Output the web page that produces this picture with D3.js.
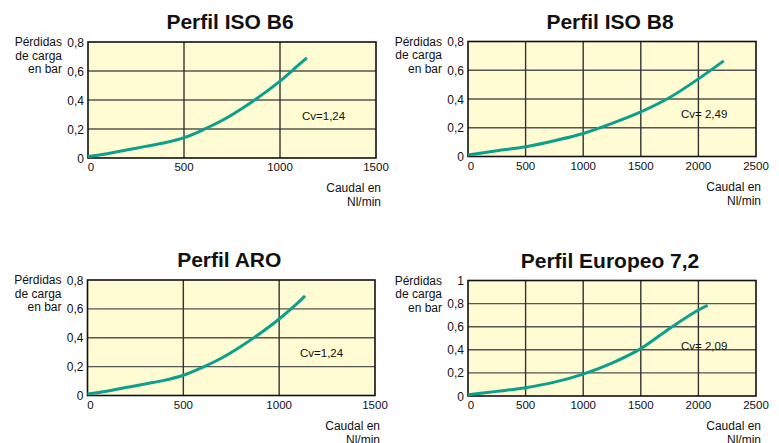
<!DOCTYPE html>
<html>
<head>
<meta charset="utf-8">
<script src="https://cdn.jsdelivr.net/npm/d3@7"></script>
<style>
body { margin: 0; background: #fff; }
text { font-family: "Liberation Sans", Arial, sans-serif; fill: #111; }
</style>
</head>
<body>
<div id="chart"></div>
<script>
// data
titles = ["Perfil ISO B6", "Perfil ISO B8", "Perfil ARO", "Perfil Europeo 7,2"];
cvLabels = ["Cv=1,24", "Cv= 2,49", "Cv=1,24", "Cv= 2,09"];
xMax = [1500, 2500, 1500, 2500];
yMax = [0.8, 0.8, 0.8, 1];
xTicks_1500 = [0, 500, 1000, 1500];
xTicks_2500 = [0, 500, 1000, 1500, 2000, 2500];
yTicks_08 = [0, 0.2, 0.4, 0.6, 0.8];
yTicks_1 = [0, 0.2, 0.4, 0.6, 0.8, 1];

flowB6 = [0, 100, 200, 300, 400, 500, 600, 700, 800, 900, 1000, 1100, 1140];
lossB6 = [0.01, 0.03, 0.055, 0.08, 0.105, 0.14, 0.195, 0.26, 0.34, 0.43, 0.53, 0.645, 0.69];
flowB8 = [0, 250, 500, 750, 1000, 1250, 1500, 1750, 2000, 2220];
lossB8 = [0.01, 0.04, 0.068, 0.11, 0.16, 0.23, 0.31, 0.41, 0.54, 0.665];
flowARO = [0, 100, 200, 300, 400, 500, 600, 700, 800, 900, 1000, 1100, 1135];
lossARO = [0.01, 0.03, 0.055, 0.08, 0.105, 0.14, 0.195, 0.26, 0.34, 0.43, 0.53, 0.645, 0.69];
flowEU = [0, 250, 500, 750, 1000, 1250, 1500, 1750, 2000, 2080];
lossEU = [0.01, 0.04, 0.072, 0.12, 0.19, 0.285, 0.41, 0.585, 0.745, 0.785];

var series = [[flowB6, lossB6], [flowB8, lossB8], [flowARO, lossARO], [flowEU, lossEU]];
var xTicksAll = [xTicks_1500, xTicks_2500, xTicks_1500, xTicks_2500];
var yTicksAll = [yTicks_08, yTicks_08, yTicks_08, yTicks_1];

// plot boxes [left, top, right, bottom]
var boxes = [[88, 42, 376, 158], [468, 41.5, 756, 156.5], [87.5, 280, 375, 395.5], [468, 280.5, 756, 396]];
var cvPos = [[302, 120], [681, 118], [300, 357], [681, 350]];

var svg = d3.select("#chart").append("svg")
			.attr("width", 779)
			.attr("height", 443);

var fmt = function(v){ return String(v).replace(".", ","); };

boxes.forEach(function(b, i){
	var g = svg.append("g");
	var x = d3.scaleLinear().domain([0, xMax[i]]).range([b[0], b[2]]);
	var y = d3.scaleLinear().domain([0, yMax[i]]).range([b[3], b[1]]);

	g.append("rect")
	 .attr("x", b[0]).attr("y", b[1])
	 .attr("width", b[2] - b[0]).attr("height", b[3] - b[1])
	 .style("fill", "#fffbd2");

	// grid
	g.selectAll(".hg").data(yTicksAll[i].slice(1, -1)).enter().append("line")
	 .attr("x1", b[0]).attr("x2", b[2])
	 .attr("y1", function(d){ return y(d); }).attr("y2", function(d){ return y(d); })
	 .style("stroke", "#555").style("stroke-width", 1.4);
	g.selectAll(".vg").data(xTicksAll[i].slice(1, -1)).enter().append("line")
	 .attr("y1", b[1]).attr("y2", b[3])
	 .attr("x1", function(d){ return x(d); }).attr("x2", function(d){ return x(d); })
	 .style("stroke", "#333").style("stroke-width", 1.4);

	g.append("rect")
	 .attr("x", b[0]).attr("y", b[1])
	 .attr("width", b[2] - b[0]).attr("height", b[3] - b[1])
	 .style("fill", "none").style("stroke", "#111").style("stroke-width", 1.6);

	// curve
	var pts = series[i][0].map(function(f, k){ return [f, series[i][1][k]]; });
	g.append("path")
	 .datum(pts)
	 .attr("d", d3.line().x(function(d){ return x(d[0]); }).y(function(d){ return y(d[1]); }).curve(d3.curveCatmullRom))
	 .style("fill", "none").style("stroke", "#0ca08c").style("stroke-width", 3).style("stroke-linecap", "butt");

	// tick labels
	g.selectAll(".yt").data(yTicksAll[i]).enter().append("text")
	 .attr("x", b[0] - 4).attr("y", function(d){ return y(d) + 4.5; })
	 .attr("text-anchor", "end").style("font-size", "12px")
	 .text(fmt);
	g.selectAll(".xt").data(xTicksAll[i]).enter().append("text")
	 .attr("x", function(d){ return x(d) + (d == 0 ? 3 : 0); }).attr("y", b[3] + 13)
	 .attr("text-anchor", "middle").style("font-size", "11.5px")
	 .text(String);

	// title
	g.append("text")
	 .attr("x", (b[0] + b[2]) / 2 - 2).attr("y", b[1] - 13)
	 .attr("text-anchor", "middle").style("font-size", "21px").style("font-weight", "bold")
	 .text(titles[i]);

	// axis names
	var yl = g.append("text").attr("text-anchor", "end").style("font-size", "12px");
	["Pérdidas", "de carga", "en bar"].forEach(function(s, k){
		yl.append("tspan").attr("x", b[0] - 26).attr("y", b[1] + 4 + k * 13.7).text(s);
	});
	var xl = g.append("text").attr("text-anchor", "end").style("font-size", "12px");
	["Caudal en", "Nl/min"].forEach(function(s, k){
		xl.append("tspan").attr("x", b[2] + 5).attr("y", b[3] + 34 + k * 14).text(s);
	});

	g.append("text")
	 .attr("x", cvPos[i][0]).attr("y", cvPos[i][1])
	 .style("font-size", "11.5px")
	 .text(cvLabels[i]);
});
</script>
</body>
</html>
